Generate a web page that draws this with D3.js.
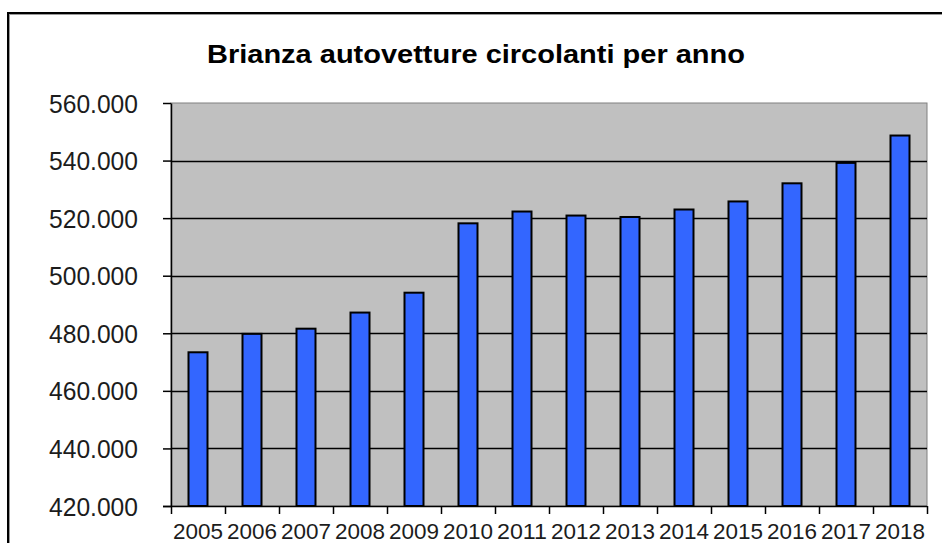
<!DOCTYPE html>
<html><head><meta charset="utf-8">
<script src="https://cdn.jsdelivr.net/npm/d3@7"></script>
<style>body{margin:0;background:#fff;}svg{display:block;}</style>
</head><body>
<script>
const years = ["2005","2006","2007","2008","2009","2010","2011","2012","2013","2014","2015","2016","2017","2018"];
const cars = [473400, 479800, 481600, 487200, 494100, 518200, 522300, 520900, 520400, 523000, 525800, 532100, 539200, 548700];
const yTicks = [420000, 440000, 460000, 480000, 500000, 520000, 540000, 560000];
const title = "Brianza autovetture circolanti per anno";

const W = 942, H = 543;
const svg = d3.select("body").append("svg").attr("width", W).attr("height", H);
const L = 171, R = 927, T = 103, B = 506;

// outer frame
svg.append("rect").attr("x", 8).attr("y", 13).attr("width", 960).attr("height", 600)
  .attr("fill", "#fff").attr("stroke", "#000").attr("stroke-width", 2);
svg.append("rect").attr("x", 9.5).attr("y", 14.5).attr("width", 960).attr("height", 600)
  .attr("fill", "none").attr("stroke", "#9a9a9a").attr("stroke-width", 1);

const x = d3.scaleBand().domain(years).range([L, R]).paddingInner(0).paddingOuter(0);
const y = d3.scaleLinear().domain([420000, 560000]).range([B, T]);

// plot background
svg.append("rect").attr("x", L).attr("y", T).attr("width", R - L).attr("height", B - T)
  .attr("fill", "#c0c0c0").attr("stroke", "#808080").attr("stroke-width", 1);

// gridlines
svg.append("g").selectAll("line").data(yTicks.filter(v => v > 420000 && v < 560000)).join("line")
  .attr("x1", L).attr("x2", R).attr("y1", d => Math.round(y(d)) + 0.5).attr("y2", d => Math.round(y(d)) + 0.5)
  .attr("stroke", "#000").attr("stroke-width", 1.3);

// bars
const bw = 19;
svg.append("g").selectAll("rect").data(cars).join("rect")
  .attr("x", (d, i) => x(years[i]) + x.bandwidth() / 2 - bw / 2)
  .attr("y", d => y(d))
  .attr("width", bw)
  .attr("height", d => B - y(d))
  .attr("fill", "#3366ff").attr("stroke", "#000").attr("stroke-width", 2);

// y axis
const fmt = v => d3.format(",")(v).replace(/,/g, ".");
const ya = svg.append("g").attr("transform", `translate(${L},0)`)
  .call(d3.axisLeft(y).tickValues(yTicks).tickSize(8).tickSizeOuter(0).tickPadding(25).tickFormat(fmt));
ya.select(".domain").attr("stroke", "#000").attr("stroke-width", 1.5);
ya.selectAll(".tick line").attr("stroke", "#000").attr("stroke-width", 1.5);
ya.selectAll(".tick text").attr("font-family", "'Liberation Sans', Arial, sans-serif")
  .attr("font-size", 25).attr("fill", "#1c1c1c").attr("dy", "0.36em")
  .attr("textLength", 89).attr("lengthAdjust", "spacingAndGlyphs");

// x axis
const xa = svg.append("g").attr("transform", `translate(0,${B})`)
  .call(d3.axisBottom(x).tickSize(0).tickPadding(0));
xa.select(".domain").remove();
const xt = d3.scaleLinear().domain([0, years.length]).range([L, R]);
svg.append("g").selectAll("line").data(d3.range(years.length + 1)).join("line")
  .attr("x1", d => Math.round(xt(d)) + 0.5).attr("x2", d => Math.round(xt(d)) + 0.5)
  .attr("y1", B).attr("y2", B + 8).attr("stroke", "#000").attr("stroke-width", 1.5);
svg.append("line").attr("x1", L - 8).attr("x2", R).attr("y1", B + 0.5).attr("y2", B + 0.5)
  .attr("stroke", "#000").attr("stroke-width", 1.5);
xa.selectAll(".tick text").attr("font-family", "'Liberation Sans', Arial, sans-serif")
  .attr("font-size", 22).attr("fill", "#1c1c1c").attr("y", 33).attr("dy", 0)
  .attr("textLength", 50).attr("lengthAdjust", "spacingAndGlyphs");

// title
svg.append("text").attr("x", 476).attr("y", 63).attr("text-anchor", "middle")
  .attr("font-family", "'Liberation Sans', Arial, sans-serif").attr("font-weight", "bold")
  .attr("font-size", 26).attr("fill", "#000")
  .attr("textLength", 538).attr("lengthAdjust", "spacingAndGlyphs")
  .text(title);
</script>
</body></html>
